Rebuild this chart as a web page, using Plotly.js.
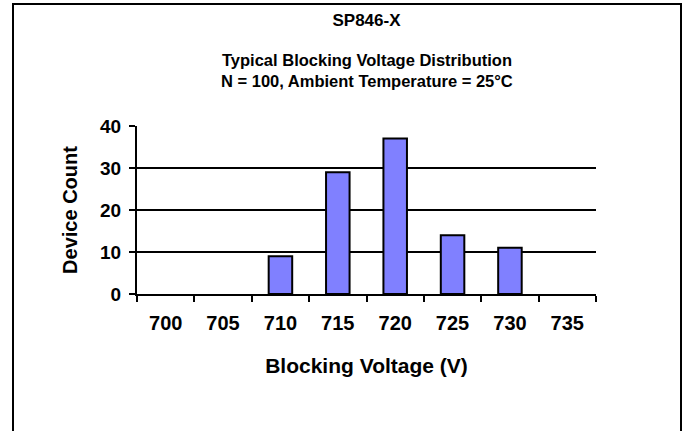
<!DOCTYPE html>
<html>
<head>
<meta charset="utf-8">
<script src="https://cdn.plot.ly/plotly-3.0.1.min.js"></script>
<style>html,body{margin:0;padding:0;background:#fff;}#chart{width:686px;height:431px;}</style>
</head>
<body>
<div id="chart"></div>
<script>
const categories = ['700', '705', '710', '715', '720', '725', '730', '735'];
const deviceCounts = [0, 0, 9, 29, 37, 14, 11, 0];
const chartTitle = 'SP846-X';
const subtitleLines = ['Typical Blocking Voltage Distribution', 'N = 100, Ambient Temperature = 25°C'];
const xTitle = 'Blocking Voltage (V)';
const yTitle = 'Device Count';
const yTicks = [0, 10, 20, 30, 40];

const FONT = 'Liberation Sans, Arial, Helvetica, sans-serif';
const W = 686, H = 431;
const M = {l: 137, r: 90, t: 126, b: 137};
const pw = W - M.l - M.r, ph = H - M.t - M.b;
const px = v => (v - M.l) / pw;
const py = v => (H - M.b - v) / ph;
const bold = (size) => ({family: FONT, size: size, color: '#000000', weight: 'bold'});

const trace = {
  type: 'bar',
  x: categories,
  y: deviceCounts,
  marker: {color: '#8080FF', line: {color: '#000000', width: deviceCounts.map(c => c > 0 ? 2 : 0)}},
  width: 0.41,
  hoverinfo: 'x+y'
};

const layout = {
  width: W, height: H,
  margin: M,
  paper_bgcolor: '#ffffff',
  plot_bgcolor: '#ffffff',
  showlegend: false,
  font: bold(18),
  title: {
    text: chartTitle,
    font: bold(17),
    xref: 'paper', x: 0.5, xanchor: 'center',
    yref: 'container', y: 1 - 20 / H, yanchor: 'middle'
  },
  annotations: [
    {text: subtitleLines[0], xref: 'paper', yref: 'paper', x: 0.5, y: py(60), xanchor: 'center', yanchor: 'middle', showarrow: false, font: bold(16.5)},
    {text: subtitleLines[1], xref: 'paper', yref: 'paper', x: 0.5, y: py(81), xanchor: 'center', yanchor: 'middle', showarrow: false, font: bold(16.5)}
  ],
  xaxis: {
    type: 'category',
    tickson: 'boundaries',
    ticks: 'outside', ticklen: 6, tickwidth: 2, tickcolor: '#000',
    showline: true, linecolor: '#000', linewidth: 2,
    showgrid: false, zeroline: false,
    tickfont: bold(20),
    ticklabelstandoff: 10,
    title: {text: xTitle, font: bold(21), standoff: 25}
  },
  yaxis: {
    range: [0, 40],
    tickvals: yTicks,
    ticks: 'outside', ticklen: 6, tickwidth: 2, tickcolor: '#000',
    showline: true, linecolor: '#000', linewidth: 2,
    showgrid: true, gridcolor: '#000', gridwidth: 2,
    zeroline: false,
    tickfont: bold(19),
    ticklabelstandoff: 4,
    title: {text: yTitle, font: bold(20), standoff: 17}
  },
  shapes: [{
    type: 'rect', xref: 'paper', yref: 'paper',
    x0: px(13), x1: px(681), y0: py(440), y1: py(4),
    line: {color: '#000', width: 2}, fillcolor: 'rgba(0,0,0,0)', layer: 'below'
  }]
};

Plotly.newPlot('chart', [trace], layout, {displayModeBar: false, staticPlot: true});
</script>
</body>
</html>
